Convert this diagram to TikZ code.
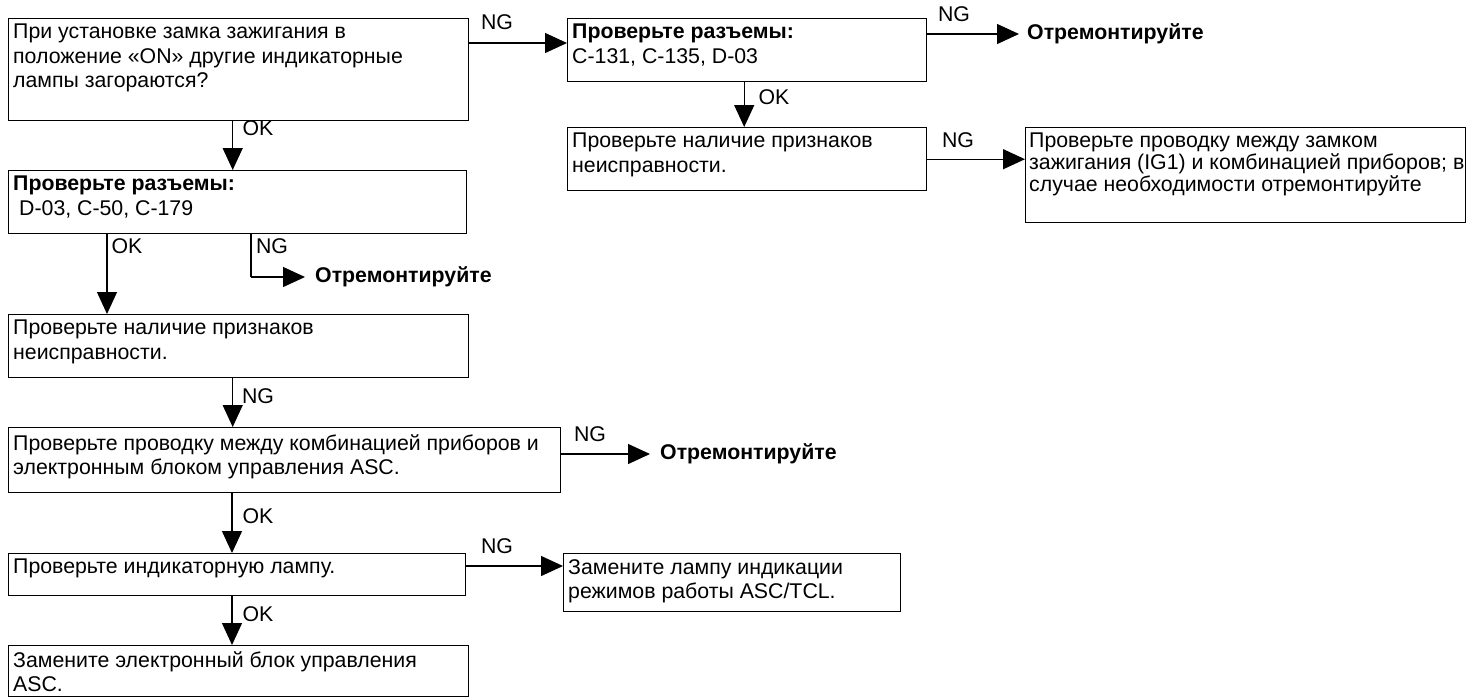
\documentclass[tikz,border=0pt]{standalone}
\usepackage{fontspec}
\setmainfont{Liberation Sans}
\usetikzlibrary{arrows.meta,calc}
\begin{document}
\begin{tikzpicture}[x=1pt,y=-1pt,
  box/.style={draw,line width=1.4pt,rectangle,inner sep=0pt,anchor=north west},
  txt/.style={anchor=north west,inner sep=0pt,align=left,font=\fontsize{21.3}{24.5}\selectfont},
  lbl/.style={inner sep=0pt,font=\fontsize{21.3}{24}\selectfont},
  rep/.style={anchor=west,inner sep=0pt,font=\fontsize{21.3}{24}\selectfont\bfseries},
  arr/.style={line width=1.3pt,-{Triangle[length=22pt,width=20pt]}},
  ln/.style={line width=1.3pt}]
\useasboundingbox (0,0) rectangle (1466,697);
% boxes
\node[box,minimum width=460pt,minimum height=102pt] (b1) at (8,18) {};
\node[txt] (t1) at ([shift={(5,6)}]b1.north west) {При установке замка зажигания в\\положение «ON» другие индикаторные\\лампы загораются?};
\node[box,minimum width=359pt,minimum height=63pt] (b2) at (567,18) {};
\node[txt] (t2) at ([shift={(5,6)}]b2.north west) {\textbf{Проверьте разъемы:}\\C-131, C-135, D-03};
\node[box,minimum width=359pt,minimum height=63pt] (b3) at (567,127) {};
\node[txt] (t3) at ([shift={(5,6)}]b3.north west) {Проверьте наличие признаков\\неисправности.};
\node[box,minimum width=440pt,minimum height=95pt] (b9) at (1025,127) {};
\node[txt,font=\fontsize{21.3}{22}\selectfont] (t9) at ([shift={(4,6)}]b9.north west) {Проверьте проводку между замком\\зажигания (IG1) и комбинацией приборов; в\\случае необходимости отремонтируйте};
\node[box,minimum width=458pt,minimum height=63pt] (b4) at (8,170) {};
\node[txt] (t4) at ([shift={(5,6)}]b4.north west) {\textbf{Проверьте разъемы:}\\\hspace*{6pt}D-03, C-50, C-179};
\node[box,minimum width=460pt,minimum height=63pt] (b5) at (8,314) {};
\node[txt] (t5) at ([shift={(5,6)}]b5.north west) {Проверьте наличие признаков\\неисправности.};
\node[box,minimum width=552pt,minimum height=65pt] (b6) at (8,427) {};
\node[txt] (t6) at ([shift={(5,7)}]b6.north west) {Проверьте проводку между комбинацией приборов и\\электронным блоком управления ASC.};
\node[box,minimum width=457pt,minimum height=42pt] (b7) at (8,553) {};
\node[txt] (t7) at ([shift={(5,6)}]b7.north west) {Проверьте индикаторную лампу.};
\node[box,minimum width=337pt,minimum height=58pt] (b10) at (563,553) {};
\node[txt] (t10) at ([shift={(5,6)}]b10.north west) {Замените лампу индикации\\режимов работы ASC/TCL.};
\node[box,minimum width=460pt,minimum height=51pt] (b8) at (8,645) {};
\node[txt] (t8) at ([shift={(5,6)}]b8.north west) {Замените электронный блок управления\\ASC.};
% repair texts
\node[rep] (r1) at (1027,34) {Отремонтируйте};
\node[rep] (r2) at (315,277) {Отремонтируйте};
\node[rep] (r3) at (660,454) {Отремонтируйте};
% connectors
\draw[arr] ([yshift=-25]b1.north east) -- ([yshift=-25]b2.north west);
\draw[arr] ([xshift=-6]b1.south) -- ([xshift=-6]b1.south |- b4.north);
\draw[arr] ([yshift=-16]b2.north east) -- ([yshift=-16,xshift=-8]b2.north east -| r1.west);
\draw[arr] ([xshift=-3]b2.south) -- ([xshift=-3]b2.south |- b3.north);
\draw[arr] (b3.east) -- (b3.east -| b9.west);
\coordinate (c4a) at ([xshift=99]b4.south west);
\coordinate (c4b) at ([xshift=243]b4.south west);
\draw[arr] (c4a) -- (c4a |- b5.north);
\draw[ln] (c4b) -- (c4b |- r2.west);
\draw[arr] (c4b |- r2.west) -- ([xshift=-10]r2.west);
\draw[arr] ([xshift=-6]b5.south) -- ([xshift=-6]b5.south |- b6.north);
\draw[arr] ([yshift=-27]b6.north east) -- ([yshift=-27,xshift=-10]b6.north east -| r3.west);
\draw[arr] ([xshift=224]b6.south west) -- ([xshift=224]b6.south west |- b7.north);
\draw[arr] ([yshift=-13]b7.north east) -- ([yshift=-13]b7.north east -| b10.west);
\draw[arr] ([xshift=224]b7.south west) -- ([xshift=224]b7.south west |- b8.north);
% labels
\node[lbl] (l1) at (497,22) {NG};
\node[lbl] (l2) at (258,128) {OK};
\node[lbl] (l3) at (954,14) {NG};
\node[lbl] (l4) at (774,97) {OK};
\node[lbl] (l5) at (958,140) {NG};
\node[lbl] (l6) at (127,246) {OK};
\node[lbl] (l7) at (272,246) {NG};
\node[lbl] (l8) at (258,396) {NG};
\node[lbl] (l9) at (590,434) {NG};
\node[lbl] (l10) at (258,516) {OK};
\node[lbl] (l11) at (497,546) {NG};
\node[lbl] (l12) at (258,614) {OK};
\end{tikzpicture}
\end{document}
